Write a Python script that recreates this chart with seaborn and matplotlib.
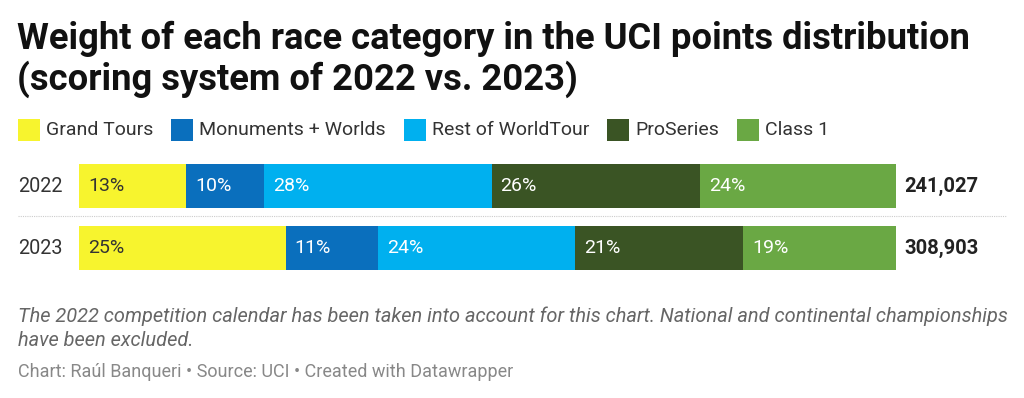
import numpy as np
import pandas as pd
import matplotlib
matplotlib.use("Agg")
import matplotlib.pyplot as plt
import seaborn as sns
from matplotlib.patches import Rectangle
from matplotlib.lines import Line2D

years = ["2022", "2023"]
categories = ["Grand Tours", "Monuments + Worlds", "Rest of WorldTour", "ProSeries", "Class 1"]
share_2022 = [13.1, 9.5, 27.9, 25.5, 24.0]
share_2023 = [25.3, 11.3, 24.1, 20.6, 18.7]
totals = ["241,027", "308,903"]
colors = ["#f7f42e", "#0a6fbd", "#00b0ef", "#3a5424", "#6aa844"]
label_colors = ["#333333", "#ffffff", "#ffffff", "#ffffff", "#ffffff"]

sns.set_theme(style="white")
plt.rcParams['font.family'] = ['Roboto', 'DejaVu Sans']

W, H = 1024, 398
fig = plt.figure(figsize=(W / 100, H / 100), dpi=100)


def fx(px):
    return px / W


def fy(py):
    return 1 - py / H


# axes: x from 79 to 896 px, y from 155 to 279 px
ax = fig.add_axes([fx(79), fy(279), fx(896) - fx(79), (279 - 155) / H])

rows = []
for i, c in enumerate(categories):
    rows.append({"year": "2022", "category": c, "share": share_2022[i]})
    rows.append({"year": "2023", "category": c, "share": share_2023[i]})
df = pd.DataFrame(rows)
wide = df.pivot(index="year", columns="category", values="share")[categories]
cum = wide.cumsum(axis=1)

# draw cumulative bars from last to first so they stack visually
for i in range(len(categories) - 1, -1, -1):
    c = categories[i]
    sub = pd.DataFrame({"year": years, "value": cum[c].values})
    sns.barplot(data=sub, y="year", x="value", orient="h", color=colors[i],
                width=0.71, saturation=1, ax=ax, linewidth=0)

ax.set_xlim(0, 100)
ax.set_ylim(1.5, -0.5)
ax.axis("off")

# segment labels
for j, yr in enumerate(years):
    left = 0
    for i, c in enumerate(categories):
        v = wide.loc[yr, c]
        ax.text(left + 1.1, j, f"{round(v):.0f}%", va="center", ha="left",
                color=label_colors[i], fontsize=14)
        left += v
    ax.text(101.0, j, totals[j], va="center", ha="left", fontsize=14.5,
            fontweight="bold", color="#222222")

# year labels
for j, yr in enumerate(years):
    fig.text(fx(18), fy(186 + j * 62), yr, va="center", ha="left",
             fontsize=14.3, color="#333333")

# dotted separator
fig.add_artist(Line2D([fx(18), fx(1006)], [fy(216), fy(216)], color="#cccccc",
                      linestyle=(0, (1, 1)), linewidth=0.8))

# title
fig.text(fx(17), fy(39), "Weight of each race category in the UCI points distribution",
         fontsize=26.2, fontweight="bold", va="center", ha="left", color="#111111")
fig.text(fx(17), fy(79), "(scoring system of 2022 vs. 2023)",
         fontsize=26.2, fontweight="bold", va="center", ha="left", color="#111111")

# legend
fig.canvas.draw()
renderer = fig.canvas.get_renderer()
xpos = 18
for i, c in enumerate(categories):
    fig.add_artist(Rectangle((fx(xpos), fy(141)), 22 / W, 22 / H,
                             facecolor=colors[i], edgecolor="none",
                             transform=fig.transFigure))
    t = fig.text(fx(xpos + 28), fy(130), c, va="center", ha="left",
                 fontsize=14, color="#333333")
    bb = t.get_window_extent(renderer=renderer)
    xpos = xpos + 28 + bb.width + 18

# footnote
fig.text(fx(18), fy(316), "The 2022 competition calendar has been taken into account for this chart. National and continental championships",
         fontsize=14.4, style="italic", color="#666666", va="center", ha="left")
fig.text(fx(18), fy(341), "have been excluded.",
         fontsize=14.4, style="italic", color="#666666", va="center", ha="left")
fig.text(fx(18), fy(372), "Chart: Raúl Banqueri • Source: UCI • Created with Datawrapper",
         fontsize=13, color="#888888", va="center", ha="left")

fig.savefig("out.png", dpi=100, facecolor="white")
